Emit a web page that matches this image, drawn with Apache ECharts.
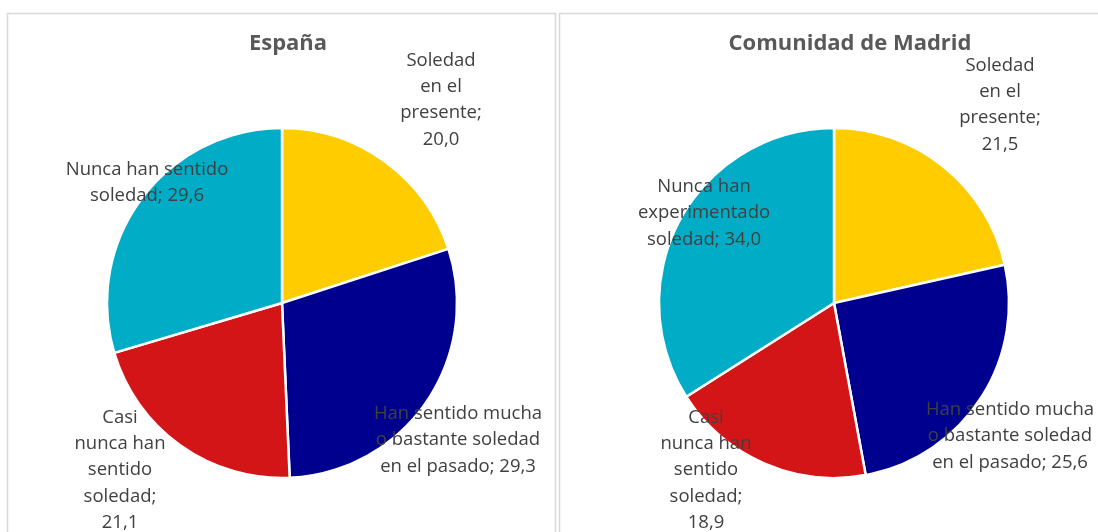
<!DOCTYPE html>
<html>
<head>
<meta charset="utf-8">
<script src="https://cdn.jsdelivr.net/npm/echarts@6/dist/echarts.min.js"></script>
<style>
html,body{margin:0;padding:0;background:#fff;}
#chart{width:1098px;height:532px;}
</style>
</head>
<body>
<div id="chart"></div>
<script>
// ---- Data ----
const categories = [
  'Soledad en el presente',
  'Han sentido mucha o bastante soledad en el pasado',
  'Casi nunca han sentido soledad',
  'Nunca han sentido soledad'
];
const titles = ['España', 'Comunidad de Madrid'];
const espanaValues = [20.0, 29.3, 21.1, 29.6];
const madridValues = [21.5, 25.6, 18.9, 34.0];
// label text as wrapped in the reference (value appended)
const espanaLabels = [
  'Soledad\nen el\npresente;\n',
  'Han sentido mucha\no bastante soledad\nen el pasado; ',
  'Casi\nnunca han\nsentido\nsoledad;\n',
  'Nunca han sentido\nsoledad; '
];
const madridLabels = [
  'Soledad\nen el\npresente;\n',
  'Han sentido mucha\no bastante soledad\nen el pasado; ',
  'Casi\nnunca han\nsentido\nsoledad;\n',
  'Nunca han\nexperimentado\nsoledad; '
];
const colors = ['#FFCC00', '#00008F', '#D41518', '#00ACC6'];

// ---- Layout (styling, not data) ----
const pieCenters = [[282, 303], [834, 303]];
const pieRadius = 175;
// label block offsets relative to pie centre
const labelOffsets = [
  [[159, -203], [176, 137], [-162, 167], [-135, -120]],
  [[166, -198], [176, 133], [-128, 167], [-130, -90]]
];

const fmt = v => v.toFixed(1).replace('.', ',');

function makeSeries(idx, values, labels) {
  return {
    type: 'pie',
    center: pieCenters[idx],
    radius: pieRadius,
    startAngle: 90,
    clockwise: true,
    animation: false,
    silent: true,
    avoidLabelOverlap: false,
    data: categories.map((c, i) => ({
      name: c,
      value: values[i],
      itemStyle: { color: colors[i] },
      label: { formatter: labels[i] + fmt(values[i]) }
    })),
    itemStyle: { borderColor: '#ffffff', borderWidth: 2.5 },
    label: {
      show: true,
      position: 'inside',
      color: '#404040',
      fontFamily: 'Open Sans',
      fontSize: 18.5,
      lineHeight: 26.3,
      align: 'center',
      overflow: 'none'
    },
    labelLine: { show: false },
    labelLayout: function (p) {
      const o = labelOffsets[idx][p.dataIndex];
      return {
        x: pieCenters[idx][0] + o[0],
        y: pieCenters[idx][1] + o[1],
        align: 'center',
        verticalAlign: 'middle',
        hideOverlap: false
      };
    }
  };
}

const chart = echarts.init(document.getElementById('chart'), null, { renderer: 'canvas' });
chart.setOption({
  backgroundColor: '#ffffff',
  animation: false,
  title: [
    { text: titles[0], left: 283, top: 28, textAlign: 'center',
      textStyle: { fontFamily: 'Open Sans', fontWeight: 'bold', fontSize: 22, color: '#595959' } },
    { text: titles[1], left: 845, top: 28, textAlign: 'center',
      textStyle: { fontFamily: 'Open Sans', fontWeight: 'bold', fontSize: 22, color: '#595959' } }
  ],
  graphic: [
    { type: 'rect', silent: true, z: -10,
      shape: { x: 7.5, y: 13.5, width: 548, height: 540 },
      style: { fill: 'none', stroke: '#D9D9D9', lineWidth: 1.5 } },
    { type: 'rect', silent: true, z: -10,
      shape: { x: 559.5, y: 13.5, width: 560, height: 540 },
      style: { fill: 'none', stroke: '#D9D9D9', lineWidth: 1.5 } }
  ],
  series: [
    makeSeries(0, espanaValues, espanaLabels),
    makeSeries(1, madridValues, madridLabels)
  ]
});
</script>
</body>
</html>
